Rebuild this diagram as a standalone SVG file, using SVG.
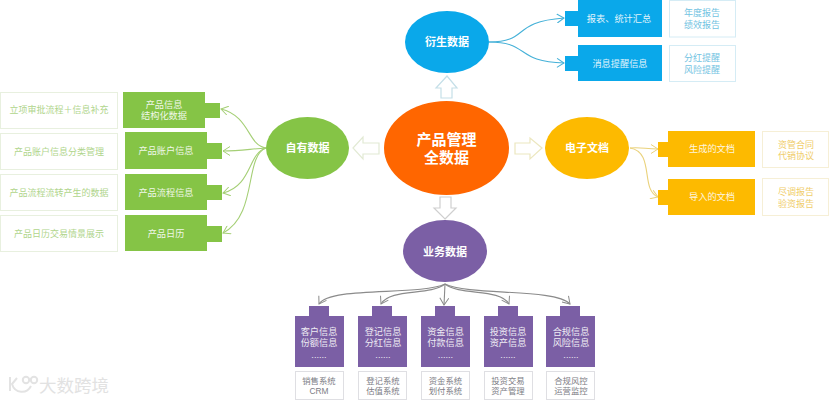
<svg xmlns="http://www.w3.org/2000/svg" width="830" height="401" viewBox="0 0 830 401">
<style>
text{font-family:"Liberation Sans","Noto Sans CJK SC",sans-serif;text-anchor:middle}
.hub{fill:#fff;font-weight:700;font-size:11px}
.core{fill:#fff;font-weight:700;font-size:15px}
.in{fill:#fff;font-size:9.2px;opacity:.88}
.note{stroke-width:1;fill:#fff}
.g{fill:#85c446}.b{fill:#0aa8ea}.o{fill:#fdba00}.p{fill:#7b5fa5}
.ng{stroke:#e8f0df}.nb{stroke:#d5ecf5}.no{stroke:#f6efd6}.np{stroke:#dfdfe3}
.tg{fill:#b0d58c;font-size:9px}.tb{fill:#72c3e2;font-size:9px}.to{fill:#f0cd6b;font-size:9px}.tp{fill:#7d7d85;font-size:8.400px}
.con{fill:none;stroke-width:1.1}
.cg{stroke:#a5cf76}.cb{stroke:#45b1d8}.co{stroke:#ead27c}.cp{stroke:#8b8b8b}
.hollow{fill:#fff;stroke-width:1.2}
</style>
<defs>
<marker id="ab" markerWidth="9" markerHeight="10" refX="8" refY="5" orient="auto" markerUnits="userSpaceOnUse"><path d="M1 0.5L8 5L1 9.500" fill="none" stroke="#45b1d8"/></marker>
<marker id="ao" markerWidth="9" markerHeight="10" refX="8" refY="5" orient="auto" markerUnits="userSpaceOnUse"><path d="M1 0.5L8 5L1 9.500" fill="none" stroke="#ead27c"/></marker>
<marker id="ap" markerWidth="9" markerHeight="10" refX="8" refY="5" orient="auto" markerUnits="userSpaceOnUse"><path d="M1 0.5L8 5L1 9.500" fill="none" stroke="#8b8b8b"/></marker>
<marker id="ag" markerWidth="9" markerHeight="10" refX="8" refY="5" orient="auto" markerUnits="userSpaceOnUse"><path d="M1 0.5L8 5L1 9.500" fill="none" stroke="#a5cf76"/></marker>
</defs>
<rect width="830" height="401" fill="#fff"/>

<g id="connectors">
<path class="con cg" marker-end="url(#ag)" d="M266 148C248 146 250 116 221 109"/>
<path class="con cg" marker-end="url(#ag)" d="M266 148C250 149 240 151 223 151"/>
<path class="con cg" marker-end="url(#ag)" d="M266 148C248 153 252 186 223 193"/>
<path class="con cg" marker-end="url(#ag)" d="M266 148C244 156 258 215 223 233"/>
<path class="con cb" marker-end="url(#ab)" d="M489 42C530 42 510 22 564 18"/>
<path class="con cb" marker-end="url(#ab)" d="M489 42C530 42 515 62 564 63"/>
<path class="con co" marker-end="url(#ao)" d="M630 148C642 147 645 149 658 149"/>
<path class="con co" marker-end="url(#ao)" d="M630 148C655 152 640 190 658 197"/>
<path class="con cp" marker-end="url(#ap)" d="M445 284C420 296 330 286 319 304"/>
<path class="con cp" marker-end="url(#ap)" d="M445 284C430 296 390 288 381 304"/>
<path class="con cp" marker-end="url(#ap)" d="M445 284L444 305"/>
<path class="con cp" marker-end="url(#ap)" d="M445 284C460 296 500 288 509 304"/>
<path class="con cp" marker-end="url(#ap)" d="M445 284C470 296 555 288 570 304"/>
</g>

<g id="arrows">
<path class="hollow" stroke="#c5dfe8" d="M447 76L457 88H452V98H441V88H436Z"/>
<path class="hollow" stroke="#e2ead4" d="M353 148L363 137V143H379V154H363V159Z"/>
<path class="hollow" stroke="#ece7bf" d="M542 148L530 138V143H515V154H530V159Z"/>
<path class="hollow" stroke="#cfcfcf" d="M445 219L456 208H451V197H440V208H434Z"/>
</g>

<g id="core"><ellipse cx="446.500" cy="148" rx="62.500" ry="47" fill="#ff6600"/><text class="core" x="446.500" y="144.500">产品管理</text><text class="core" x="446.500" y="162.500">全数据</text></g>
<g id="hub-derived"><ellipse cx="447" cy="42" rx="42" ry="31" class="b"/><text class="hub" x="447" y="46">衍生数据</text></g>
<g id="hub-own"><ellipse cx="307.500" cy="148" rx="41.500" ry="31" class="g"/><text class="hub" x="307.500" y="152">自有数据</text></g>
<g id="hub-docs"><ellipse cx="587" cy="148" rx="42" ry="31" class="o"/><text class="hub" x="587" y="152">电子文档</text></g>
<g id="hub-business"><ellipse cx="445" cy="251" rx="42" ry="31" class="p"/><text class="hub" x="445" y="256">业务数据</text></g>

<g id="own-1"><rect class="note ng" x="0.500" y="92.500" width="117" height="36"/><text class="tg" x="59" y="113">立项审批流程＋信息补充</text><path class="g" d="M123 92H205V103H220V118H205V128H123Z"/><text class="in" x="164" y="107.500">产品信息</text><text class="in" x="164" y="118.500">结构化数据</text></g>
<g id="own-2"><rect class="note ng" x="0.500" y="133.500" width="117" height="36"/><text class="tg" x="59" y="155">产品账户信息分类管理</text><path class="g" d="M125 132H207V143H222V159H207V169H125Z"/><text class="in" x="166" y="154">产品账户信息</text></g>
<g id="own-3"><rect class="note ng" x="0.500" y="174.500" width="117" height="36"/><text class="tg" x="59" y="196">产品流程流转产生的数据</text><path class="g" d="M125 174H207V185H222V200H207V210H125Z"/><text class="in" x="166" y="196">产品流程信息</text></g>
<g id="own-4"><rect class="note ng" x="0.500" y="215.500" width="117" height="36"/><text class="tg" x="59" y="237">产品日历交易情景展示</text><path class="g" d="M125 215H207V226H222V242H207V251H125Z"/><text class="in" x="166" y="236.500">产品日历</text></g>

<g id="derived-1"><path class="b" d="M578 0H662V37H578V26H565V11H578Z"/><text class="in" x="619" y="21.500">报表、统计汇总</text><rect class="note nb" x="669.500" y="0.500" width="66" height="36.500"/><text class="tb" x="702" y="15.500">年度报告</text><text class="tb" x="702" y="27.500">绩效报告</text></g>
<g id="derived-2"><path class="b" d="M578 45H662V81H578V71H565V56H578Z"/><text class="in" x="620" y="66.500">消息提醒信息</text><rect class="note nb" x="669.500" y="45.500" width="66" height="36"/><text class="tb" x="702" y="60.500">分红提醒</text><text class="tb" x="702" y="72.500">风险提醒</text></g>

<g id="docs-1"><path class="o" d="M668 131H755V167H668V157H658V142H668Z"/><text class="in" x="712" y="151.500">生成的文档</text><rect class="note no" x="762.500" y="131.500" width="66" height="36"/><text class="to" x="796" y="147.500">资管合同</text><text class="to" x="796" y="158.500">代销协议</text></g>
<g id="docs-2"><path class="o" d="M668 179H755V215H668V205H658V190H668Z"/><text class="in" x="712" y="200">导入的文档</text><rect class="note no" x="762.500" y="178.500" width="66" height="37"/><text class="to" x="796" y="194.500">尽调报告</text><text class="to" x="796" y="206.500">验资报告</text></g>

<g id="biz-1"><path class="p" d="M309 306H329V316H344V367H295V316H309Z"/><text class="in" x="319" y="334.500">客户信息</text><text class="in" x="319" y="345.500">份额信息</text><text class="in" x="319" y="358">......</text><rect class="note np" x="295.500" y="371.500" width="48" height="28"/><text class="tp" x="319" y="384">销售系统</text><text class="tp" x="319" y="394">CRM</text></g>
<g id="biz-2"><path class="p" d="M372 306H392V316H407V367H358V316H372Z"/><text class="in" x="383" y="334.500">登记信息</text><text class="in" x="383" y="345.500">分红信息</text><text class="in" x="383" y="358">......</text><rect class="note np" x="358.500" y="371.500" width="48" height="28"/><text class="tp" x="383" y="384">登记系统</text><text class="tp" x="383" y="394">估值系统</text></g>
<g id="biz-3"><path class="p" d="M435 306H455V316H470V367H421V316H435Z"/><text class="in" x="445.500" y="334.500">资金信息</text><text class="in" x="445.500" y="345.500">付款信息</text><text class="in" x="445.500" y="358">......</text><rect class="note np" x="421.500" y="371.500" width="48" height="28"/><text class="tp" x="445.500" y="384">资金系统</text><text class="tp" x="445.500" y="394">划付系统</text></g>
<g id="biz-4"><path class="p" d="M498 306H518V316H533V367H484V316H498Z"/><text class="in" x="508" y="334.500">投资信息</text><text class="in" x="508" y="345.500">资产信息</text><text class="in" x="508" y="358">......</text><rect class="note np" x="484.500" y="371.500" width="48" height="28"/><text class="tp" x="508" y="384">投资交易</text><text class="tp" x="508" y="394">资产管理</text></g>
<g id="biz-5"><path class="p" d="M560 306H580V316H595V367H546V316H560Z"/><text class="in" x="571" y="334.500">合规信息</text><text class="in" x="571" y="345.500">风险信息</text><text class="in" x="571" y="358">......</text><rect class="note np" x="546.500" y="371.500" width="48" height="28"/><text class="tp" x="571" y="384">合规风控</text><text class="tp" x="571" y="394">运营监控</text></g>

<g id="watermark" fill="none" stroke="#e3e3e3" stroke-width="2">
<path d="M10 377V391M17 378L12 384C15 394 27 394 31 386"/><circle cx="26" cy="380" r="3.200"/><circle cx="34" cy="380" r="3.200"/>
<text x="74" y="392" stroke="none" fill="#e2e2e2" style="font-size:17.500px">大数跨境</text>
</g>
</svg>
